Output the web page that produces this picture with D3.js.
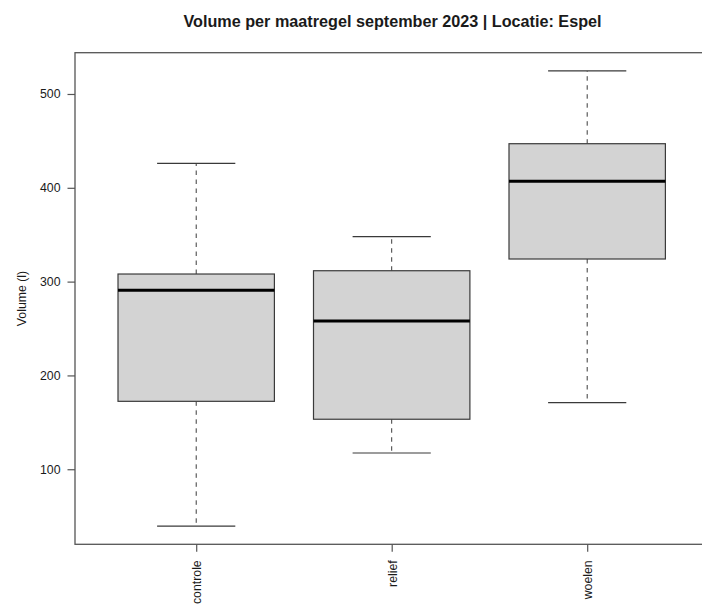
<!DOCTYPE html>
<html>
<head>
<meta charset="utf-8">
<script src="https://cdn.jsdelivr.net/npm/d3@7"></script>
<style>
  html, body { margin: 0; padding: 0; background: #fff; }
  svg { display: block; }
  text { font-family: "Liberation Sans", Arial, Helvetica, sans-serif; fill: #1a1a1a; }
</style>
</head>
<body>
<svg id="chart" width="702" height="610"></svg>
<script>
// Five-number summaries per measure (litres)
const categories = ["controle", "relief", "woelen"];
const lowerWhisker = [39.4, 117.3, 171.1];
const lowerQuartile = [172.4, 153.3, 324.1];
const medians = [290.7, 258.0, 406.9];
const upperQuartile = [308.1, 311.6, 447.0];
const upperWhisker = [426.1, 347.9, 524.6];
const yTicks = [100, 200, 300, 400, 500];

const titleText = "Volume per maatregel september 2023 | Locatie: Espel";
const yLabel = "Volume (l)";

const boxes = categories.map((c, i) => ({
  cat: c,
  lo: lowerWhisker[i], q1: lowerQuartile[i], med: medians[i],
  q3: upperQuartile[i], hi: upperWhisker[i]
}));

const svg = d3.select("#chart");
const plot = { left: 75, right: 708.4, top: 52.7, bottom: 544.3 };

// base-graphics style 4% padding on the value range
const vmin = d3.min(lowerWhisker), vmax = d3.max(upperWhisker);
const pad = (vmax - vmin) * 0.04;

const x = d3.scalePoint()
  .domain(categories)
  .range([plot.left, plot.right])
  .padding(0.62);
const step = x.step();
const boxHalf = step * 0.4;
const capHalf = step * 0.2;

const y = d3.scaleLinear()
  .domain([vmin - pad, vmax + pad])
  .range([plot.bottom, plot.top]);

const lineCol = "#3a3a3a";

// whiskers, caps, boxes, medians
const g = svg.append("g");
boxes.forEach(b => {
  const cx = x(b.cat);
  g.append("line")
    .attr("x1", cx).attr("x2", cx)
    .attr("y1", y(b.q3)).attr("y2", y(b.hi))
    .attr("stroke", lineCol).attr("stroke-width", 1)
    .attr("stroke-dasharray", "4.5,4.5");
  g.append("line")
    .attr("x1", cx).attr("x2", cx)
    .attr("y1", y(b.q1)).attr("y2", y(b.lo))
    .attr("stroke", lineCol).attr("stroke-width", 1)
    .attr("stroke-dasharray", "4.5,4.5");
  [b.hi, b.lo].forEach(v => {
    g.append("line")
      .attr("x1", cx - capHalf).attr("x2", cx + capHalf)
      .attr("y1", y(v)).attr("y2", y(v))
      .attr("stroke", lineCol).attr("stroke-width", 1.2);
  });
  g.append("rect")
    .attr("x", cx - boxHalf).attr("width", boxHalf * 2)
    .attr("y", y(b.q3)).attr("height", y(b.q1) - y(b.q3))
    .attr("fill", "#d3d3d3")
    .attr("stroke", lineCol).attr("stroke-width", 1.2);
  g.append("line")
    .attr("x1", cx - boxHalf).attr("x2", cx + boxHalf)
    .attr("y1", y(b.med)).attr("y2", y(b.med))
    .attr("stroke", "#000").attr("stroke-width", 3);
});

// plot frame
svg.append("rect")
  .attr("x", plot.left).attr("y", plot.top)
  .attr("width", plot.right - plot.left).attr("height", plot.bottom - plot.top)
  .attr("fill", "none").attr("stroke", "#555").attr("stroke-width", 1.3);

// y axis
const yAxis = d3.axisLeft(y).tickValues(yTicks).tickSize(7.5).tickPadding(7).tickFormat(d3.format("d"));
const ya = svg.append("g").attr("transform", `translate(${plot.left},0)`).call(yAxis);
ya.select(".domain").remove();
ya.selectAll(".tick line").attr("stroke", "#555").attr("stroke-width", 1.2);
ya.selectAll(".tick text").attr("font-size", 12.3).attr("fill", "#1a1a1a")
  .style("font-family", "'Liberation Sans', Arial, sans-serif");

// x axis with vertical labels
const xAxis = d3.axisBottom(x).tickSize(7.5).tickPadding(0);
const xa = svg.append("g").attr("transform", `translate(0,${plot.bottom})`).call(xAxis);
xa.select(".domain").remove();
xa.selectAll(".tick line").attr("stroke", "#555").attr("stroke-width", 1.2);
xa.selectAll(".tick text")
  .attr("font-size", 12.3).attr("fill", "#1a1a1a")
  .style("font-family", "'Liberation Sans', Arial, sans-serif")
  .attr("text-anchor", "end")
  .attr("transform", "translate(0,16) rotate(-90)")
  .attr("x", 0).attr("y", 0).attr("dy", "0.35em");

// y axis title
svg.append("text")
  .attr("transform", `translate(26,${(plot.top + plot.bottom) / 2}) rotate(-90)`)
  .attr("text-anchor", "middle")
  .attr("font-size", 12.3)
  .text(yLabel);

// chart title
svg.append("text")
  .attr("x", 392.5)
  .attr("y", 27)
  .attr("text-anchor", "middle")
  .attr("font-size", 16.2)
  .attr("font-weight", "bold")
  .text(titleText);
</script>
</body>
</html>
